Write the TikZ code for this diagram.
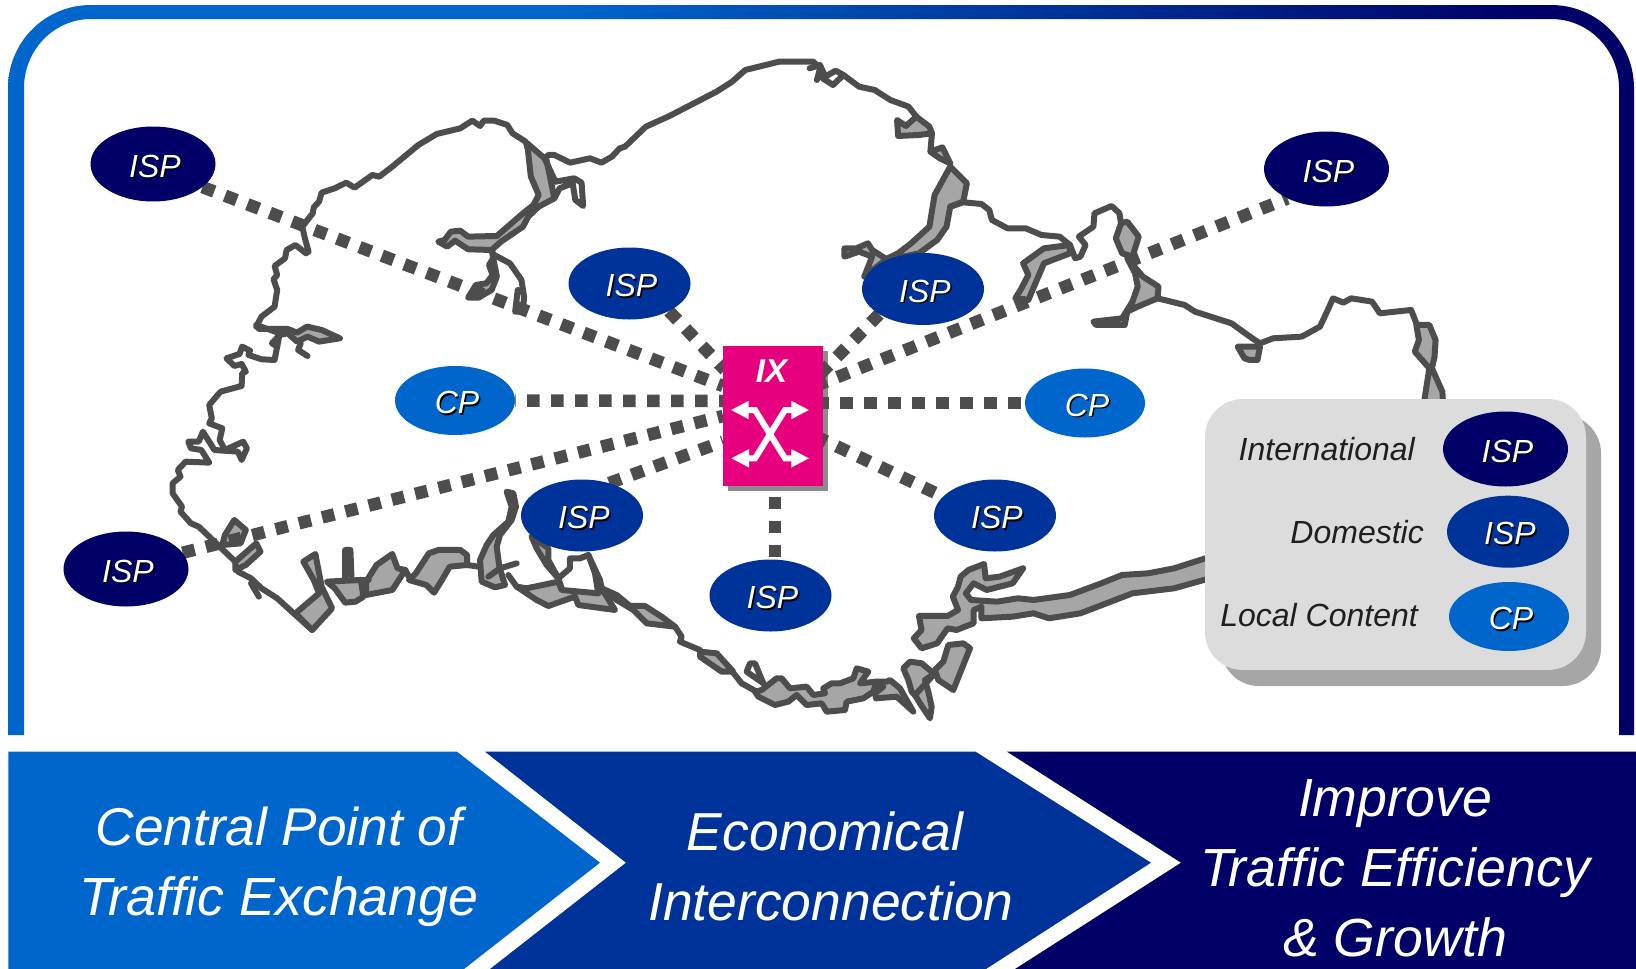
\documentclass[tikz,border=0pt]{standalone}
\usepackage{fontspec}
\setmainfont{Liberation Sans}
\usetikzlibrary{shapes.geometric,arrows.meta}
\pgfdeclarelayer{bg}\pgfdeclarelayer{mid}
\pgfsetlayers{bg,mid,main}
\definecolor{cint}{HTML}{000066}
\definecolor{cdom}{HTML}{003399}
\definecolor{ccp}{HTML}{0066CC}
\definecolor{coast}{HTML}{4D4D4D}
\definecolor{sea}{HTML}{A6A6A6}
\definecolor{ixpink}{HTML}{E6007E}
\definecolor{panel}{HTML}{DCDCDC}
\definecolor{dotc}{HTML}{4D4D4D}
\pgfdeclarehorizontalshading{frameg}{100bp}{color(0bp)=(ccp);color(25bp)=(ccp);color(42bp)=(ccp);color(72bp)=(cint);color(100bp)=(cint)}
\newcommand{\shtxt}[1]{\kern4pt\rlap{\kern1.5pt\raisebox{-1.5pt}{\color{black}#1}}\color{white}#1}
\tikzset{
 blob/.style={ellipse,inner sep=0pt,text height=26pt,text depth=0pt,font=\itshape\fontsize{32}{32}\selectfont},
 intl/.style={blob,fill=cint,minimum width=125pt,minimum height=75pt},
 domn/.style={blob,fill=cdom,minimum width=122pt,minimum height=72pt},
 cpn/.style={blob,fill=ccp,minimum width=120pt,minimum height=69pt},
 dotln/.style={draw=dotc,line width=12.5pt,dash pattern=on 12.5pt off 11.5pt},
 cl/.style={draw=coast,line width=6pt,line join=round,line cap=round},
 cf/.style={cl,fill=sea},
 zA/.style={shift={(0,0)},x=0.523pt,y=-0.3333pt},
 zB/.style={shift={(820,0)},x=0.5208pt,y=-0.3333pt},
 zC/.style={shift={(0,380)},x=0.523pt,y=-0.3333pt},
 zD/.style={shift={(820,380)},x=0.5208pt,y=-0.3333pt},
 zE/.style={shift={(700,620)},x=0.3333pt,y=-0.3333pt},
 zF/.style={shift={(480,480)},x=0.3333pt,y=-0.3333pt},
 lgt/.style={font=\itshape\fontsize{32}{32}\selectfont,text=black!88,inner sep=0pt},
 headline/.style={font=\itshape\fontsize{53.7}{70}\selectfont,text=white,align=center,inner sep=0pt},
 arr/.style={draw=white,line width=6pt,{Triangle[length=18pt,width=17pt]}-{Triangle[length=18pt,width=17pt]}},
}
\begin{document}
\begin{tikzpicture}[x=1pt,y=-1pt]
\useasboundingbox (0,0) rectangle (1636,969);
\begin{pgfonlayer}{bg}
\fill[white] (0,0) rectangle (1636,969);
% frame
\shade[shading=frameg,even odd rule]
 (8,735) -- (8,88) .. controls (8,42) and (45,5) .. (91,5) -- (1551,5) .. controls (1597,5) and (1634,42) .. (1634,88) -- (1634,735) -- (1619,735) -- (1619,88)
 .. controls (1619,50) and (1589,19) .. (1551,19) -- (91,19) .. controls (54,19) and (24,50) .. (24,88) -- (24,735) -- cycle;
% coast, upper left
\begin{scope}[zA]
\draw[cl] (422,1175)--(462,1158)--(463,1120)--(470,1115)--(462,1092)--(448,1098)--(433,1075)--(458,1062)--(463,1040)--(478,1052)--(475,1065)--(500,1078)--(525,1080)--(530,1040);
\draw[cf] (530,1040)--(520,1030)--(535,1005)--(550,1000)--(568,1025)--(588,1010)--(610,1025)--(650,1015)--(615,990)--(587,980)--(568,998)--(550,987)--(495,987)--(490,975)--(535,1000)--cycle;
\draw[cl] (575,1030)--(570,1050)--(588,1068);
\draw[cl] (490,980)--(500,950)--(525,920)--(530,870)--(523,838)--(530,825)--(525,798)--(545,775)--(548,750)--(565,735)--(585,760)--(590,755)--(583,715)--(578,680)--(598,640)--(600,622)--(610,605)--(615,578)--(640,565)--(662,548)--(678,563)--(712,525)--(725,530)--(750,500)--(800,435)--(835,402)--(880,385)--(903,362)--(918,378)--(925,362)--(945,362)--(970,375)--(980,400)--(1005,425)--(1010,450);
\draw[cf] (1008,430)--(1015,530)--(1030,585)--(1020,615)--(1000,640)--(950,708)--(895,710)--(880,692)--(862,695)--(850,720)--(838,725)--(855,740)--(870,722)--(895,748)--(940,750)--(958,725)--(1000,680)--(1010,650)--(1030,620)--(1060,595)--(1045,480)--cycle;
\draw[cl] (1060,595)--(1070,565)--(1095,550)--(1100,600)--(1115,618)--(1112,548)--(1098,535)--(1062,545)--(1042,478)--(1048,465)--(1060,465)--(1090,488)--(1128,475)--(1150,488)--(1170,470)--(1185,445)--(1195,440)--(1235,380)--(1280,348)--(1370,275)--(1400,245)--(1425,210)--(1490,185)--(1555,185)--(1568,205)--(1562,240);
\draw[cf] (940,750)--(945,770)--(935,795)--(942,825)--(930,850)--(910,855)--(895,893)--(915,893)--(940,870)--(950,830)--(945,790)--cycle;
\draw[cl] (945,765)--(975,790)--(997,840)--(1002,890)--(1000,935)--(985,935)--(990,870);
\end{scope}
% coast, upper right
\begin{scope}[zB]
\draw[cl] (-20,205)--(0,195)--(10,230)--(30,212)--(45,225)--(25,255)--(5,235);
\draw[cl] (45,225)--(75,260)--(105,270)--(135,300)--(170,320)--(185,350);
\draw[cf] (148,360)--(165,378)--(185,350)--(210,380)--(215,400)--(190,405)--(150,408)--cycle;
\draw[cl] (215,400)--(212,455);
\draw[cf] (212,455)--(235,442)--(250,490)--(230,475)--cycle;
\draw[cf] (250,500)--(282,550)--(275,605)--(250,620)--(243,680)--(225,720)--(190,760)--(130,780)--(100,750)--(92,730)--(70,745)--(47,745)--(47,770)--(75,755)--(100,770)--(85,830)--(130,775)--(150,760)--(175,730)--(210,680)--(220,585)--cycle;
\draw[cl] (250,620)--(275,607)--(310,612)--(325,630)--(330,660)--(360,685)--(395,685)--(425,705)--(460,710)--(480,735)--(490,775)--(500,770)--(510,735)--(497,710)--(525,680)--(527,640)--(560,618)--(575,640)--(580,690);
\draw[cf] (390,790)--(400,825)--(385,870)--(375,895)--(400,900)--(430,790)--(480,760)--(480,735)--(430,745)--cycle;
\draw[cf] (590,665)--(612,710)--(600,770)--(580,760)--(568,715)--(578,670)--cycle;
\draw[cf] (590,775)--(620,830)--(650,860)--(648,895)--(610,920)--(590,935)--(600,905)--(610,860)--(605,820)--cycle;
\draw[cl] (590,935)--(585,975)--(530,975)--(525,965)--(580,955)--(600,905);
\draw[cl] (648,895)--(700,915)--(720,935)--(790,970)--(830,1015)--(845,1030)--(870,1015)--(925,1010)--(960,980)--(975,930)--(985,895)--(1005,908)--(1020,895)--(1060,905)--(1075,940)--(1135,930)--(1145,970);
\draw[cf] (802,1040)--(845,1040)--(840,1080)--(825,1080)--(815,1075)--cycle;
\draw[cf] (1145,975)--(1170,975)--(1182,1020)--(1180,1070)--(1175,1105)--(1195,1175)--(1198,1255)--(1155,1255)--(1170,1105)--(1142,1055)--(1150,1020)--cycle;
\end{scope}
% coast, lower left
\begin{scope}[zC]
\draw[cl] (420,38)--(400,75)--(405,115)--(400,130)--(425,145)--(420,180)--(430,210)--(465,185)--(472,205)--(462,240)--(455,215)--(410,210)--(388,155)--(380,185)--(360,185)--(365,205)--(385,210)--(400,248)--(355,245)--(340,270)--(345,290)--(330,310)--(330,340)--(348,380)--(345,395)--(365,430)--(380,440)--(400,470)--(420,500)--(450,545)--(455,575)--(480,595)--(500,625)--(530,655)--(565,705)--(597,750);
\draw[cf] (425,495)--(430,465)--(448,420)--(470,450)--(460,490)--cycle;
\draw[cl] (400,500)--(425,495);
\draw[cf] (450,545)--(490,490)--(498,515)--(470,555)--(450,570)--cycle;
\draw[cl] (480,610)--(495,650);
\draw[cf] (565,700)--(610,640)--(600,600)--(580,545)--(603,522)--(615,620)--(635,685)--(597,750)--cycle;
\draw[cf] (625,605)--(690,600)--(695,650)--(680,665)--(660,668)--(640,625)--cycle;
\draw[cl] (660,600)--(660,510)--(670,510)--(672,590);
\draw[cf] (700,605)--(720,555)--(750,522)--(760,565)--(775,570)--(750,630)--(700,645)--cycle;
\draw[cl] (690,600)--(705,600);
\draw[cf] (782,600)--(795,580)--(820,520)--(838,510)--(880,510)--(893,525)--(893,555)--(860,560)--(845,600)--(830,638)--(815,615)--cycle;
\draw[cl] (775,570)--(785,600);
\draw[cl] (893,555)--(915,560);
\end{scope}
% coast, south middle
\begin{scope}[zF]
\draw[cf] (80,35)--(100,40)--(108,80)--(95,120)--(60,165)--(50,200)--(58,260)--(75,315)--(45,322)--(5,305)--(0,240)--(20,195)--(40,165)--(85,125)--(95,80)--cycle;
\draw[cl] (25,290)--(60,265)--(110,250);
\draw[cf] (110,320)--(140,325)--(235,305)--(245,330)--(355,340)--(365,325)--(405,390)--(295,375)--(285,350)--(205,378)--(170,360)--cycle;
\draw[cl] (85,285)--(110,320);
\draw[cl] (245,325)--(235,295)--(270,265)--(270,235)--(300,235)--(325,225)--(345,280)--(355,340);
\draw[cf] (155,170)--(205,205)--(205,240)--(235,295)--(200,255)--(170,205)--cycle;
\draw[cl] (325,225)--(360,300)--(365,325);
\draw[cf] (365,325)--(410,345)--(450,378)--(495,378)--(545,410)--(585,440)--(500,430)--(460,390)--(410,360)--cycle;
\draw[cl] (585,440)--(605,470)--(600,485)--(660,510);
\end{scope}
% coast, south east
\begin{scope}[zE]
\draw[cf] (0,95)--(50,100)--(100,155)--(65,155)--(0,110)--cycle;
\draw[cl] (85,140)--(125,190)--(170,215);
\draw[cl] (165,130)--(190,190)--(140,155)--(150,130)--cycle;
\draw[cf] (165,215)--(185,210)--(230,175)--(245,175)--(270,205)--(320,200)--(340,225)--(375,220)--(370,205)--(395,190)--(420,190)--(460,175)--(470,145)--(505,155)--(480,190)--(530,185)--(520,215)--(490,235)--(440,245)--(435,270)--(380,275)--(365,250)--(320,255)--(290,225)--(265,245)--(225,255)--(175,230)--cycle;
\draw[cf] (530,185)--(560,185)--(570,180)--(600,205)--(640,275)--(590,230)--(528,235)--(525,220)--(550,200)--cycle;
\draw[cf] (610,145)--(630,125)--(665,130)--(695,155)--(705,160)--(675,180)--(685,215)--(695,260)--(690,295)--(660,250)--(645,225)--(635,215)--(625,180)--cycle;
\draw[cf] (790,70)--(810,85)--(760,210)--(715,180)--(705,150)--(730,125)--(745,75)--cycle;
\draw[cl] (645,225)--(705,160);
\end{scope}
% coast, peninsula
\begin{scope}[zD]
\draw[cf] (760,525)--(680,565)--(630,580)--(580,585)--(540,610)--(480,645)--(410,660)--(380,655)--(340,665)--(290,660)--(280,640)--(295,610)--(320,630)--(370,610)--(390,565)--(345,590)--(318,595)--(315,552)--(285,570)--(270,590)--(265,620)--(255,650)--(265,690)--(245,708)--(190,708)--(195,750)--(180,775)--(195,805)--(225,790)--(245,745)--(262,750)--(295,730)--(295,690)--(310,680)--(310,715)--(370,710)--(410,700)--(440,715)--(500,700)--(550,670)--(600,640)--(680,625)--(760,590)--cycle;
\end{scope}
\fill[black!45] (728,351) rectangle (828,490.7);
\end{pgfonlayer}
% legend
\fill[sea,rounded corners=38pt] (1221,415) rectangle (1601,686);
\fill[panel,rounded corners=38pt] (1205,399) rectangle (1586,670);
\node[lgt,anchor=east] (tint) at (1415,449) {International};
\node[lgt,anchor=east] (tdom) at (1424,532) {Domestic};
\node[lgt,anchor=east] (tloc) at (1418,615) {Local Content};
\node[intl] (lgi) at (1505.5,449) {\shtxt{ISP}};
\node[domn] (lgd) at (1508,531.7) {\shtxt{ISP}};
\node[cpn] (lgc) at (1509,616.5) {\shtxt{CP}};
% IX
\node[fill=ixpink,minimum width=99.7pt,minimum height=139.7pt,inner sep=0pt] (ix) at (773.2,415.9) {};
\node[font=\bfseries\itshape\fontsize{33}{33}\selectfont,text=white,inner sep=0pt] (ixl) at (771.5,371) {IX};
\coordinate (atl) at (730.7,410);
\coordinate (atr) at (809.3,410);
\coordinate (abl) at (731,458.3);
\coordinate (abr) at (809.3,458.3);
\draw[arr] (atl) -- (755,410) -- (785,458.3) -- (abr);
\draw[arr] (abl) -- (755,458.3) -- (785,410) -- (atr);
% nodes
\node[intl] (i1) at (153,164) {\shtxt{ISP}};
\node[intl] (i2) at (1326.5,169) {\shtxt{ISP}};
\node[intl] (i3) at (126,569) {\shtxt{ISP}};
\node[domn] (d1) at (629.5,283.5) {\shtxt{ISP}};
\node[domn] (d2) at (923,289) {\shtxt{ISP}};
\node[domn] (d3) at (582,515.5) {\shtxt{ISP}};
\node[domn] (d4) at (770.5,595.5) {\shtxt{ISP}};
\node[domn] (d5) at (995,515.5) {\shtxt{ISP}};
\node[cpn] (c1) at (455,400.5) {\shtxt{CP}};
\node[cpn] (c2) at (1085,403) {\shtxt{CP}};
% connectors
\coordinate (e1) at (723,386);
\coordinate (e2) at (725,370);
\coordinate (e3) at (723,401);
\coordinate (e4) at (723,416);
\coordinate (e5) at (723,441.6);
\coordinate (e6) at (775,496.7);
\coordinate (e7) at (815,436);
\coordinate (e8) at (816,403);
\coordinate (e9) at (820,374);
\coordinate (e10) at (815,386);
\begin{pgfonlayer}{mid}
\draw[dotln] (i1.335) -- (e1);
\draw[dotln] (d1.-35) -- (e2);
\draw[dotln,dash phase=12pt] (c1.east) -- (e3);
\draw[dotln] (i3.16) -- (e4);
\draw[dotln] (d3.50) -- (e5);
\draw[dotln] (e6) -- (e6 |- d4.north);
\draw[dotln] (e7) -- (d5.160);
\draw[dotln] (e8) -- (c2.west);
\draw[dotln] (e9) -- (d2.210);
\draw[dotln] (e10) -- (i2.217);
\end{pgfonlayer}
% chevrons
\fill[ccp] (8.3,751.7) -- (457,751.7) -- (600,862.7) -- (464,969) -- (8.3,969) -- cycle;
\fill[cdom] (485,751.7) -- (975.6,751.7) -- (1151,862.7) -- (986,969) -- (490,969) -- (626,862.7) -- cycle;
\fill[cint] (1007,751.7) -- (1636,751.7) -- (1636,969) -- (1015,969) -- (1181,862.7) -- cycle;
\node[headline] (h1) at (279,867) {{\fontsize{53.2}{70}\selectfont Central Point of}\\Traffic Exchange};
\node[headline,font=\itshape\fontsize{53.4}{70}\selectfont] (h2) at (831,866) {\hspace*{-12pt}Economical\\Interconnection};
\node[headline] (h3) at (1395,868) {Improve\\Traffic Efficiency\\\& Growth};
\end{tikzpicture}
\end{document}
